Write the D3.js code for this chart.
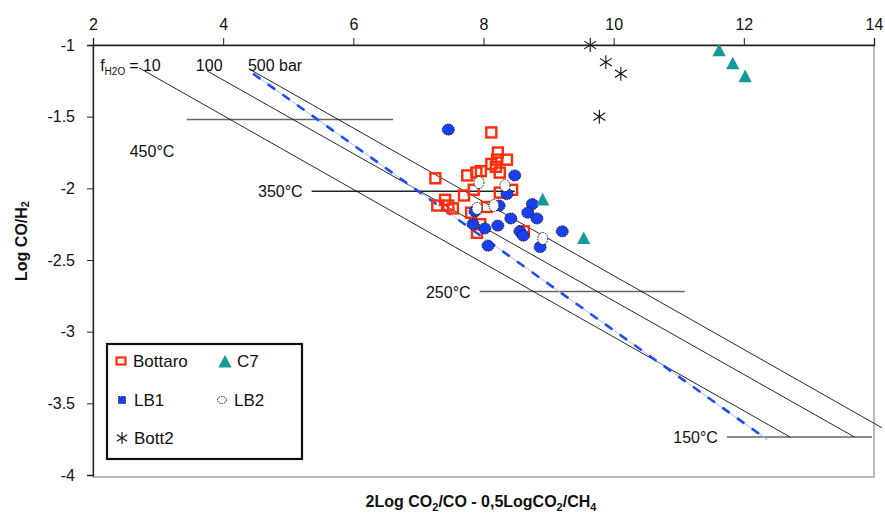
<!DOCTYPE html>
<html>
<head>
<meta charset="utf-8">
<script src="https://cdn.jsdelivr.net/npm/d3@7"></script>
<style>
  body { margin: 0; background: #fff; }
  text { font-family: Arial, "Liberation Sans", sans-serif; }
</style>
</head>
<body>
<div id="chart"></div>
<script>
// ---- data ----
const xTicks = [2, 4, 6, 8, 10, 12, 14];
const yTicks = [-1, -1.5, -2, -2.5, -3, -3.5, -4];

const bottaroX = [8.12, 8.22, 8.21, 8.36, 8.12, 8.19, 8.25, 7.96, 7.89, 7.75, 7.26, 8.44, 8.25, 7.85, 7.70, 7.41, 7.29, 7.46, 7.53, 7.81, 8.05, 7.95, 7.90, 8.62];
const bottaroY = [-1.61, -1.75, -1.80, -1.80, -1.83, -1.85, -1.89, -1.88, -1.89, -1.91, -1.93, -2.01, -2.03, -2.01, -2.05, -2.08, -2.12, -2.12, -2.14, -2.17, -2.13, -2.25, -2.31, -2.30];

const lb1X = [7.46, 8.48, 8.75, 8.24, 8.36, 8.68, 8.82, 8.42, 7.87, 7.84, 8.22, 8.02, 8.56, 8.61, 9.21, 8.87, 8.07];
const lb1Y = [-1.59, -1.91, -2.11, -2.12, -2.04, -2.17, -2.21, -2.21, -2.16, -2.25, -2.26, -2.28, -2.30, -2.33, -2.30, -2.41, -2.40];

const lb2X = [7.93, 8.33, 8.16, 7.90, 8.91];
const lb2Y = [-1.96, -1.98, -2.12, -2.14, -2.35];

const c7X = [11.62, 11.83, 12.02, 8.91, 9.54];
const c7Y = [-1.04, -1.13, -1.22, -2.08, -2.35];

const bott2X = [9.64, 9.88, 10.11, 9.78];
const bott2Y = [-1.00, -1.12, -1.20, -1.50];

// fH2O isobars (10, 100, 500 bar)
const isoX1 = [2.71, 3.75, 4.41];
const isoY1 = [-1.16, -1.18, -1.17];
const isoX2 = [12.71, 13.70, 14.12];
const isoY2 = [-3.735, -3.735, -3.67];

// blue dashed line
const blueX = [4.46, 12.35];
const blueY = [-1.20, -3.75];

// isotherms
const tempLabels = ["450°C", "350°C", "250°C", "150°C"];
const tempY = [-1.52, -2.02, -2.72, -3.735];
const tempX1 = [3.44, 5.36, 7.94, 11.74];
const tempX2 = [6.61, 8.48, 11.09, 13.97];

// ---- layout ----
const w = 885, h = 520;
const mLeft = 93, mRight = 874, mTop = 45, mBottom = 475;

const svg = d3.select('#chart').append('svg')
  .attr('width', w)
  .attr('height', h);

const xScale = d3.scaleLinear().domain([2, 14]).range([mLeft, mRight]);
const yScale = d3.scaleLinear().domain([-1, -4]).range([mTop, mBottom]);

// plot frame
svg.append('rect')
  .attr('x', mLeft).attr('y', mTop)
  .attr('width', mRight - mLeft).attr('height', mBottom - mTop + 2)
  .attr('fill', 'none')
  .attr('stroke', '#8a8a8a')
  .attr('stroke-width', 1.2);

// top x axis (crosses at y = -1)
const xAxis = d3.axisTop(xScale).tickValues(xTicks).tickSize(7).tickPadding(8).tickFormat(d => String(d));
const gx = svg.append('g').attr('transform', `translate(0, ${mTop})`).call(xAxis);
gx.select('.domain').attr('stroke', '#222').attr('stroke-width', 1.3);
gx.selectAll('.tick line').attr('stroke', '#222');
gx.selectAll('text').style('font-size', '16px').attr('fill', '#111');

// left y axis
const yAxis = d3.axisLeft(yScale).tickValues(yTicks).tickSize(6).tickPadding(12).tickFormat(d => String(d));
const gy = svg.append('g').attr('transform', `translate(${mLeft}, 0)`).call(yAxis);
gy.select('.domain').attr('stroke', '#222').attr('stroke-width', 1.3);
gy.selectAll('.tick line').attr('stroke', '#222');
gy.selectAll('text').style('font-size', '16px').attr('fill', '#111');

// isotherm lines
svg.selectAll('line.temp')
  .data(tempY)
  .enter()
  .append('line')
  .attr('class', 'temp')
  .attr('x1', (d, i) => xScale(tempX1[i]))
  .attr('x2', (d, i) => xScale(tempX2[i]))
  .attr('y1', d => yScale(d))
  .attr('y2', d => yScale(d))
  .attr('stroke', (d, i) => i === 1 ? '#222' : '#666')
  .attr('stroke-width', 1.5);

// isotherm labels
svg.selectAll('text.temp')
  .data(tempLabels)
  .enter()
  .append('text')
  .attr('class', 'temp')
  .attr('x', (d, i) => i === 0 ? xScale(tempX1[i]) - 57 : xScale(tempX1[i]) - 9)
  .attr('y', (d, i) => i === 0 ? yScale(tempY[i]) + 37 : yScale(tempY[i]) + 6)
  .attr('text-anchor', (d, i) => i === 0 ? 'start' : 'end')
  .style('font-size', '16px')
  .attr('fill', '#111')
  .text(d => d);

// fH2O isobars
svg.selectAll('line.iso')
  .data(isoX1)
  .enter()
  .append('line')
  .attr('class', 'iso')
  .attr('x1', d => xScale(d))
  .attr('y1', (d, i) => yScale(isoY1[i]))
  .attr('x2', (d, i) => xScale(isoX2[i]))
  .attr('y2', (d, i) => yScale(isoY2[i]))
  .attr('stroke', '#111')
  .attr('stroke-width', 0.9);

// blue dashed line: thin light base + thick dashes
svg.append('line')
  .attr('x1', xScale(blueX[0])).attr('y1', yScale(blueY[0]))
  .attr('x2', xScale(blueX[1])).attr('y2', yScale(blueY[1]))
  .attr('stroke', '#a9bcff')
  .attr('stroke-width', 1);
svg.append('line')
  .attr('x1', xScale(blueX[0])).attr('y1', yScale(blueY[0]))
  .attr('x2', xScale(blueX[1])).attr('y2', yScale(blueY[1]))
  .attr('stroke', '#1f4cf5')
  .attr('stroke-width', 2.6)
  .attr('stroke-dasharray', '9,9');

// fH2O labels
const fLab = svg.append('text')
  .attr('x', xScale(2.11)).attr('y', yScale(-1.18))
  .style('font-size', '16px').attr('fill', '#111');
fLab.append('tspan').text('f');
fLab.append('tspan').attr('dy', 4).style('font-size', '10px').text('H2O');
fLab.append('tspan').attr('dy', -4).attr('dx', 4).text('= 10');
svg.append('text')
  .attr('x', xScale(3.58)).attr('y', yScale(-1.18))
  .style('font-size', '16px').attr('fill', '#111').text('100');
svg.append('text')
  .attr('x', xScale(4.38)).attr('y', yScale(-1.18))
  .style('font-size', '16px').attr('fill', '#111').text('500 bar');

// ---- markers ----
const red = '#ff2d0a', blue = '#1a3ff0', teal = '#17999a';

function drawBottaro(g, x, y) {
  g.append('rect')
    .attr('x', x - 5).attr('y', y - 5)
    .attr('width', 10).attr('height', 10)
    .attr('fill', 'none')
    .attr('stroke', red)
    .attr('stroke-width', 2.4);
}
function drawLB1(g, x, y, rx, ry) {
  g.append('ellipse')
    .attr('cx', x).attr('cy', y)
    .attr('rx', rx).attr('ry', ry)
    .attr('fill', blue)
    .attr('stroke', '#111')
    .attr('stroke-width', 1)
    .attr('stroke-dasharray', '1.5,1');
}
function drawLB2(g, x, y, rx, ry) {
  g.append('ellipse')
    .attr('cx', x).attr('cy', y)
    .attr('rx', rx).attr('ry', ry)
    .attr('fill', '#fff')
    .attr('stroke', '#111')
    .attr('stroke-width', 1)
    .attr('stroke-dasharray', '1.5,1');
}
function drawC7(g, x, y, s) {
  g.append('path')
    .attr('d', `M${x},${y - s}L${x + s * 0.95},${y + s * 0.8}L${x - s * 0.95},${y + s * 0.8}Z`)
    .attr('fill', teal);
}
function drawBott2(g, x, y, s) {
  g.append('path')
    .attr('d', `M${x},${y - s}V${y + s}M${x - s * 0.85},${y - s * 0.55}L${x + s * 0.85},${y + s * 0.55}M${x - s * 0.85},${y + s * 0.55}L${x + s * 0.85},${y - s * 0.55}`)
    .attr('stroke', '#111')
    .attr('stroke-width', 1.1)
    .attr('fill', 'none');
}

const pts = svg.append('g');
bottaroX.forEach((d, i) => drawBottaro(pts, xScale(d), yScale(bottaroY[i])));
lb1X.forEach((d, i) => drawLB1(pts, xScale(d), yScale(lb1Y[i]), 6, 5.5));
lb2X.forEach((d, i) => drawLB2(pts, xScale(d), yScale(lb2Y[i]), 5, 6));
c7X.forEach((d, i) => drawC7(pts, xScale(d), yScale(c7Y[i]), 7));
bott2X.forEach((d, i) => drawBott2(pts, xScale(d), yScale(bott2Y[i]), 7));

// ---- legend ----
const lg = svg.append('g');
lg.append('rect')
  .attr('x', 107).attr('y', 344)
  .attr('width', 195).attr('height', 115)
  .attr('fill', '#fff')
  .attr('stroke', '#111')
  .attr('stroke-width', 2.2);

const legendItems = [
  { name: 'Bottaro', x: 121, y: 361 },
  { name: 'C7', x: 225, y: 361 },
  { name: 'LB1', x: 122, y: 400 },
  { name: 'LB2', x: 222, y: 400 },
  { name: 'Bott2', x: 122, y: 438 }
];
legendItems.forEach(it => {
  if (it.name === 'Bottaro') {
    lg.append('rect').attr('x', it.x - 4.5).attr('y', it.y - 3.5).attr('width', 9).attr('height', 7)
      .attr('fill', 'none').attr('stroke', red).attr('stroke-width', 2.2);
  } else if (it.name === 'C7') {
    drawC7(lg, it.x, it.y + 1, 7);
  } else if (it.name === 'LB1') {
    lg.append('rect').attr('x', it.x - 3.5).attr('y', it.y - 3.5).attr('width', 7).attr('height', 7)
      .attr('fill', blue).attr('stroke', '#111').attr('stroke-width', 0.8).attr('stroke-dasharray', '1.5,1');
  } else if (it.name === 'LB2') {
    drawLB2(lg, it.x, it.y, 4.5, 3.5);
  } else {
    drawBott2(lg, it.x, it.y, 6);
  }
  lg.append('text')
    .attr('x', it.x + 12).attr('y', it.y + 6)
    .style('font-size', '17px')
    .attr('fill', '#111')
    .text(it.name);
});

// ---- axis titles ----
const xt = svg.append('text')
  .attr('x', 481).attr('y', 507)
  .attr('text-anchor', 'middle')
  .style('font-size', '16px')
  .style('font-weight', 'bold')
  .attr('fill', '#111');
xt.append('tspan').text('2Log CO');
xt.append('tspan').attr('dy', 4).style('font-size', '11px').text('2');
xt.append('tspan').attr('dy', -4).text('/CO - 0,5LogCO');
xt.append('tspan').attr('dy', 4).style('font-size', '11px').text('2');
xt.append('tspan').attr('dy', -4).text('/CH');
xt.append('tspan').attr('dy', 4).style('font-size', '11px').text('4');

const yt = svg.append('text')
  .attr('transform', 'translate(27, 241) rotate(-90)')
  .attr('text-anchor', 'middle')
  .style('font-size', '16px')
  .style('font-weight', 'bold')
  .attr('fill', '#111');
yt.append('tspan').text('Log CO/H');
yt.append('tspan').attr('dy', 2).style('font-size', '11px').text('2');
</script>
</body>
</html>
